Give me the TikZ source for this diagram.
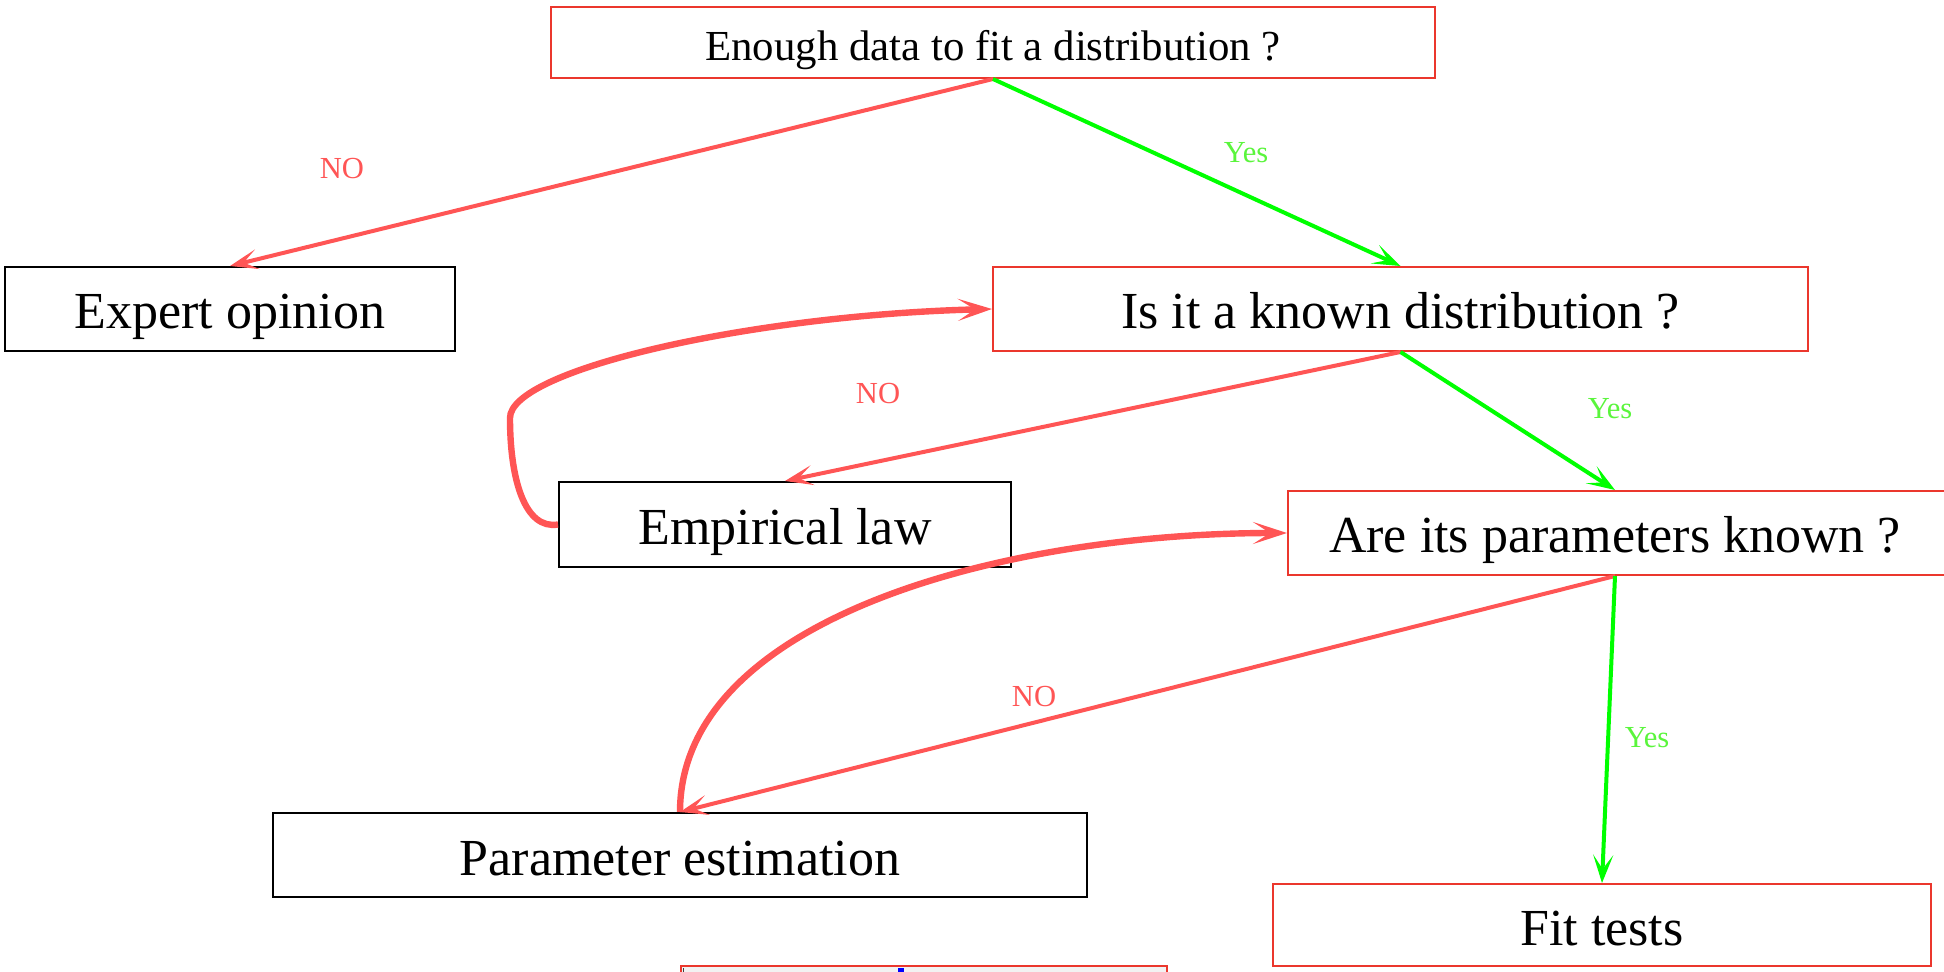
\documentclass[tikz,border=0pt]{standalone}
\usepackage{fontspec}
\setmainfont{Liberation Serif}
\usetikzlibrary{arrows.meta}
\definecolor{boxred}{RGB}{235,55,45}
\definecolor{arrred}{RGB}{255,85,85}
\definecolor{arrgreen}{RGB}{0,255,0}
\definecolor{lblgreen}{RGB}{90,245,60}
\definecolor{panelgray}{RGB}{242,242,242}
\begin{document}
\begin{tikzpicture}[x=0.5pt,y=-0.5pt,
  box/.style={draw, line width=1pt, inner sep=0pt, align=center,
    text height=22pt, text depth=2pt, font=\fontsize{26}{30}\selectfont},
  plainbox/.style={box, draw=black},
  redbox/.style={box, draw=boxred},
  thinhead/.style={-{Stealth[length=14pt,width=10pt,inset=7pt]}},
  thickhead/.style={-{Stealth[length=17pt,width=11pt,inset=8.5pt]}},
  noline/.style={draw=arrred, line width=2pt, thinhead},
  yesline/.style={draw=arrgreen, line width=2pt, thinhead},
  loopback/.style={draw=arrred, line width=3.2pt, thickhead},
  nolabel/.style={text=arrred, font=\fontsize{15.3}{18}\selectfont, inner sep=0pt},
  yeslabel/.style={text=lblgreen, font=\fontsize{15.3}{18}\selectfont, inner sep=0pt}]
\useasboundingbox (0,0) rectangle (1944,972);

% decision boxes
\node[redbox, minimum width=442pt, minimum height=35.5pt,
      text height=20pt, text depth=2pt, font=\fontsize{21.4}{25}\selectfont]
  (top) at (993,42.5) {Enough data to fit a distribution ?};
\node[plainbox, minimum width=225pt, minimum height=42pt] (expert) at (230,309) {Expert opinion};
\node[redbox, minimum width=407.5pt, minimum height=42pt] (known) at (1400.5,309) {Is it a known distribution ?};
\node[plainbox, minimum width=226pt, minimum height=42.5pt] (emp) at (785,524.5) {Empirical law};
\node[redbox, minimum width=329pt, minimum height=42pt] (params) at (1617,533) {};
\node[font=\fontsize{26}{30}\selectfont, inner sep=0pt, text height=22pt, text depth=2pt] (paramstxt) at (1615,533) {Are its parameters known ?};
\node[plainbox, minimum width=407pt, minimum height=42pt] (estim) at (680,855) {Parameter estimation};
\node[redbox, minimum width=329pt, minimum height=41pt] (fit) at (1602,925) {Fit tests};

% next panel, cut by the lower edge
\fill[panelgray] (681,966) rectangle (1167,985);
\draw[boxred, line width=1pt] (681,985) |- (1167,966) -- (1167,985);
\draw[black!75, line width=0.6pt] (683.5,968) -- (683.5,985);
\fill[blue] (898,968) rectangle (904,985);

% answers
\draw[noline] (top.south) -- (expert.north);
\draw[yesline] (top.south) -- (known.north);
\draw[noline] (known.south) -- (emp.north);
\draw[yesline] (known.south) -- (params.north -| paramstxt);
\draw[noline] (params.south -| paramstxt) -- (estim.north);
\draw[yesline] (params.south -| paramstxt) -- (fit.north);

% feedback loops
\draw[loopback] (emp.west) .. controls (525,530) and (510,480) .. (510,418)
  .. controls (510,370) and (750,315) .. (known.west);
\draw[loopback] (estim.north) .. controls (680,620) and (1000,533) .. (params.west);

% labels
\node[nolabel] (no1) at (342,169) {NO};
\node[yeslabel] (yes1) at (1246,153) {Yes};
\node[nolabel] (no2) at (878,394) {NO};
\node[yeslabel] (yes2) at (1610,409) {Yes};
\node[nolabel] (no3) at (1034,697) {NO};
\node[yeslabel] (yes3) at (1647,738) {Yes};
\end{tikzpicture}
\end{document}
